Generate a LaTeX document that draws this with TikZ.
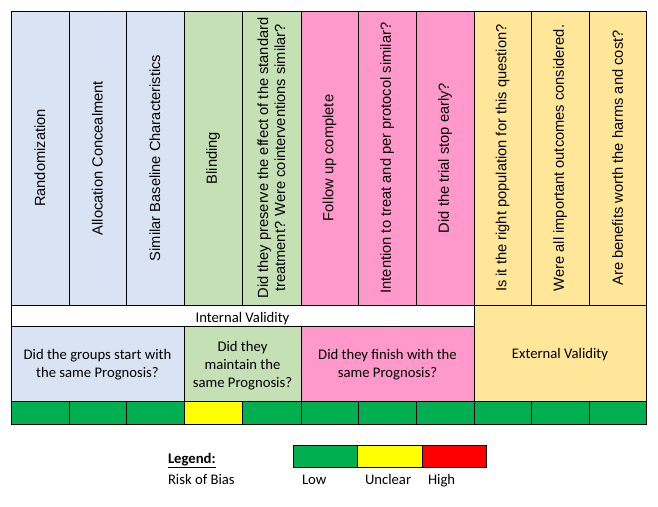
\documentclass[tikz,border=0pt]{standalone}
\usepackage{fontspec}
\setmainfont{Liberation Sans}
\newfontfamily\califont{Carlito}
\definecolor{blueL}{HTML}{DAE3F3}
\definecolor{greenL}{HTML}{C5E0B4}
\definecolor{pinkL}{HTML}{FF99CC}
\definecolor{yellowL}{HTML}{FFE699}
\definecolor{low}{HTML}{00B050}
\definecolor{unclear}{HTML}{FFFF00}
\definecolor{high}{HTML}{FF0000}
\begin{document}
\begin{tikzpicture}[x=1pt,y=-1pt,
  cell/.style={draw=black, line width=1pt, inner sep=0pt, outer sep=0pt},
  arialtxt/.style={font=\fontsize{14.67}{17}\selectfont, align=center},
  calitxt/.style={inner sep=0pt, font=\califont\fontsize{14.67}{18}\selectfont, align=center},
  lbl/.style={inner sep=0pt, outer sep=0pt, font=\califont\fontsize{14.67}{18}\selectfont}]
\useasboundingbox[fill=white] (0,0) rectangle (658,506);
% header columns
\foreach \n/\xa/\xb/\c/\t in {
  1/11/69/blueL/{Randomization},
  2/69/126/blueL/{Allocation Concealment},
  3/126/184/blueL/{Similar Baseline Characteristics},
  4/184/242/greenL/{Blinding},
  5/242/301/greenL/{Did they preserve the effect of the standard\\treatment? Were cointerventions similar?},
  6/301/358/pinkL/{Follow up complete},
  7/358/416/pinkL/{Intention to treat and per protocol similar?},
  8/416/474/pinkL/{Did the trial stop early?},
  9/474/531/yellowL/{Is it the right population for this question?},
  10/531/589/yellowL/{Were all important outcomes considered.},
  11/589/646/yellowL/{Are benefits worth the harms and cost?}}{
  \node[cell, arialtxt, fill=\c, rotate=90, minimum width=294, minimum height={\xb-\xa}]
    (h\n) at ({(\xa+\xb)/2},158) {\t};
}
% internal validity row
\node[cell, fill=white, minimum width=463, minimum height=21, anchor=north west] (ivbox) at (11,305) {};
\node[lbl] (ivtxt) at (242.5,318.5) {Internal Validity};
% external validity
\node[cell, fill=yellowL, minimum width=172, minimum height=96, anchor=north west] (ev) at (474,305) {};
\node[calitxt] (evt) at (560,355) {External Validity};
% question row
\node[cell, fill=blueL, minimum width=173, minimum height=75, anchor=north west] (q1) at (11,326) {};
\node[calitxt] (q1t) at (97.5,365) {Did the groups start with\\the same Prognosis?};
\node[cell, fill=greenL, minimum width=117, minimum height=75, anchor=north west] (q2) at (184,326) {};
\node[calitxt] (q2t) at (242.5,365.5) {Did they\\maintain the\\same Prognosis?};
\node[cell, fill=pinkL, minimum width=173, minimum height=75, anchor=north west] (q3) at (301,326) {};
\node[calitxt] (q3t) at (387.5,365) {Did they finish with the\\same Prognosis?};
% risk row
\foreach \n/\xa/\xb/\c in {1/11/69/low,2/69/126/low,3/126/184/low,4/184/242/unclear,5/242/301/low,6/301/358/low,7/358/416/low,8/416/474/low,9/474/531/low,10/531/589/low,11/589/646/low}{
  \node[cell, fill=\c, minimum width={\xb-\xa}, minimum height=23, anchor=north west] (r\n) at (\xa,401) {};
}
% legend
\node[lbl, anchor=base west] (legend) at (168,463) {\underline{\textbf{Legend:}}};
\node[lbl, anchor=base west] (rob) at (168,484) {Risk of Bias};
\node[cell, fill=low, minimum width=64, minimum height=22, anchor=north west] (lg1) at (293,445) {};
\node[cell, fill=unclear, minimum width=65, minimum height=22, anchor=north west] (lg2) at (357,445) {};
\node[cell, fill=high, minimum width=64, minimum height=22, anchor=north west] (lg3) at (422,445) {};
\node[lbl, anchor=base west] (llow) at (302,484) {Low};
\node[lbl, anchor=base west] (lunc) at (365,484) {Unclear};
\node[lbl, anchor=base west] (lhigh) at (428,484) {High};
\end{tikzpicture}
\end{document}
